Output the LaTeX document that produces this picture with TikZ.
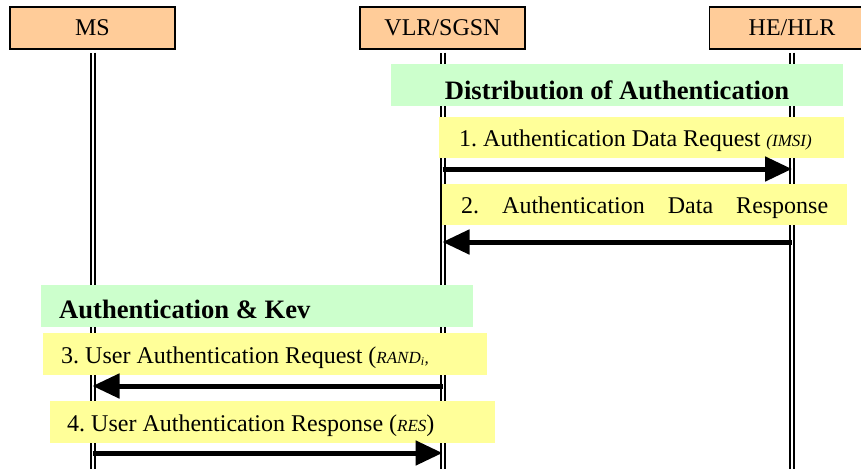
\documentclass[tikz,border=0pt]{standalone}
\usepackage{fontspec}
\setmainfont{Liberation Serif}
\usetikzlibrary{arrows.meta}

\definecolor{actorfill}{HTML}{FFCC99}
\definecolor{phasefill}{HTML}{CCFFCC}
\definecolor{msgfill}{HTML}{FFFF99}

\tikzset{
  actor/.style={draw=black, line width=1.5pt, fill=actorfill, minimum width=165pt,
    minimum height=42pt, inner sep=0pt, font=\fontsize{24}{28}\selectfont},
  lifeline/.style={double, double distance=2pt, line width=2pt},
  phase/.style={fill=phasefill, inner sep=0pt, anchor=north west},
  phasetext/.style={inner sep=0pt, font=\fontsize{26.6}{30}\selectfont\bfseries},
  msgband/.style={fill=msgfill, inner ysep=0pt, anchor=north west, align=left,
    text height=18pt, text depth=0pt, font=\fontsize{24}{28}\selectfont,
    execute at begin node={\spaceskip=0pt\xspaceskip=0pt\frenchspacing}},
  msg/.style={line width=5pt, -{Triangle[length=27pt,width=24pt]}}
}
\newcommand{\param}[1]{{\fontsize{17}{20}\selectfont\itshape #1}}

\begin{document}
\begin{tikzpicture}[x=1pt,y=-1pt]
\useasboundingbox (0,0) rectangle (861,468);

% entities
\node[actor] (ms) at (92.5,28) {MS};
\node[actor] (vlr) at (442.5,28) {VLR/SGSN};
\node[actor] (hlr) at (792,28) {HE/HLR};

% lifelines
\coordinate (bot) at (0,470);
\draw[lifeline] ([yshift=-3pt]ms.south) -- (ms |- bot);
\draw[lifeline] ([yshift=-3pt]vlr.south) -- (vlr |- bot);
\draw[lifeline] ([yshift=-3pt]hlr.south) -- (hlr |- bot);

% distribution phase
\node[phase, minimum width=452pt, minimum height=42pt] (dist) at (391,64) {};
\begin{scope}
\clip (391,64) rectangle (843,99.5);
\node[phasetext, anchor=base] (distlabel) at (617,100) {Distribution of Authentication};
\end{scope}

\node[msgband, minimum width=405pt, minimum height=41pt, text width=365pt, inner xsep=20pt]
  (m1) at (439,117) {1. Authentication Data Request \param{(IMSI)}};
\node[msgband, minimum width=405pt, minimum height=41pt, text width=367pt, inner xsep=19pt]
  (m2) at (442,184) {\makebox[367pt][s]{2. Authentication Data Response}};

% authentication phase
\node[phase, minimum width=432pt, minimum height=42pt] (auth) at (41,285) {};
\begin{scope}
\clip (41,285) rectangle (473,319);
\node[phasetext, anchor=base west] (authlabel) at (59,318) {Authentication \& Kev};
\end{scope}

\node[msgband, minimum width=444pt, minimum height=42pt, text width=408pt, inner xsep=18pt]
  (m3) at (43,333) {3. User Authentication Request (\param{RAND\textsubscript{i},}};
\node[msgband, minimum width=445pt, minimum height=42pt, text width=411pt, inner xsep=17pt]
  (m4) at (50,401) {4. User Authentication Response (\param{RES})};

% messages
\coordinate (y1) at (0,169);
\coordinate (y2) at (0,242);
\coordinate (y3) at (0,386);
\coordinate (y4) at (0,453);
\draw[msg] (vlr |- y1) -- (hlr |- y1);
\draw[msg] (hlr |- y2) -- (vlr |- y2);
\draw[msg] (vlr |- y3) -- (ms |- y3);
\draw[msg] (ms |- y4) -- (vlr |- y4);

\end{tikzpicture}
\end{document}
